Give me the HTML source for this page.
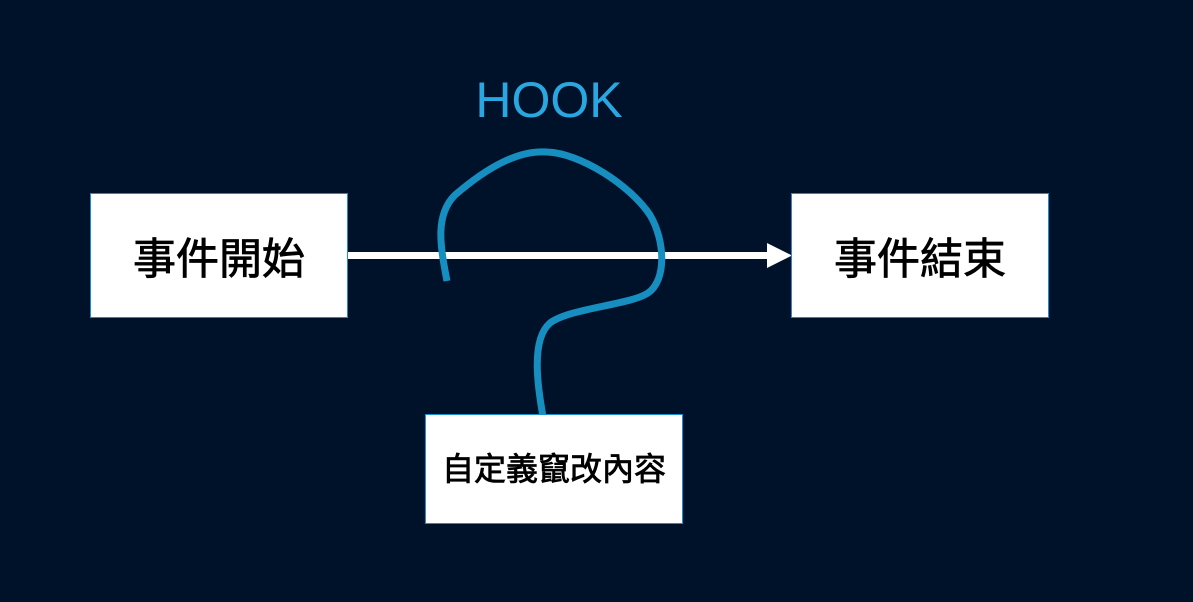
<!DOCTYPE html>
<html><head><meta charset="utf-8"><style>
html,body{margin:0;padding:0;background:#00112a;width:1193px;height:602px;overflow:hidden}
.b{position:absolute;background:#fff;border:1px solid #1a8fd0;box-sizing:border-box;display:flex;align-items:center;justify-content:center;color:#000;font-family:"Liberation Sans","Noto Sans CJK TC",sans-serif;font-weight:normal;-webkit-text-stroke:0.8px #000}
</style></head><body>
<svg width="1193" height="602" style="position:absolute;left:0;top:0">
<line x1="347" y1="255.5" x2="772" y2="255.5" stroke="#fff" stroke-width="7"/>
<polygon points="767,243 792,255.5 767,268" fill="#fff"/>
<path d="M447,281 C440,245 435,215 455,195 C490,165 520,150 547,152 C580,153 630,185 650,215 C665,240 667,280 648,293 C630,305 570,308 550,323 C530,340 538,390 544,422" fill="none" stroke="#168fc0" stroke-width="7"/>
<text x="549" y="117" text-anchor="middle" font-family="Liberation Sans, sans-serif" font-size="50" fill="#29a7e0">HOOK</text>
</svg>
<div class="b" style="left:90px;top:193px;width:258px;height:125px;font-size:43px">事件開始</div>
<div class="b" style="left:791px;top:193px;width:258px;height:125px;font-size:43px">事件結束</div>
<div class="b" style="left:425px;top:414px;width:258px;height:110px;font-size:32px;padding-bottom:4px">自定義竄改內容</div>
</body></html>
